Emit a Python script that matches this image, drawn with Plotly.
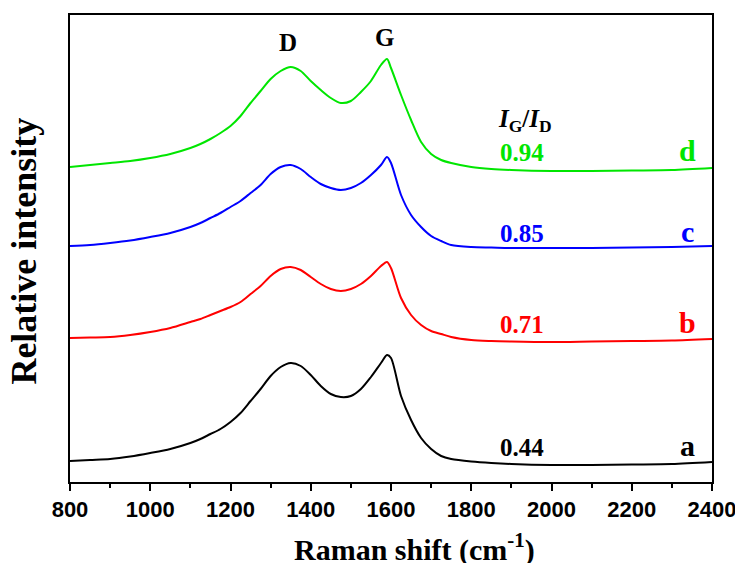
import plotly.graph_objects as go

# Raman shift (cm^-1) sample positions
shift = [800, 850, 900, 950, 1000, 1050, 1100, 1125, 1150, 1175, 1200,
         1225, 1250, 1275, 1300, 1325, 1350, 1375, 1400, 1425, 1450, 1475, 1500,
         1525, 1550, 1575, 1590, 1600, 1625, 1650, 1675, 1700, 1725, 1750,
         1800, 1850, 1900, 2000, 2100, 2200, 2300, 2400]

# Relative intensity (arbitrary units, spectra offset vertically)
spec_a = [21, 22, 23, 25.5, 29, 33, 39, 43, 48, 53, 60,
          69, 81, 93, 106, 115, 119, 116, 107, 96, 88, 85, 86,
          93, 105, 119, 127, 124, 86, 62, 44, 33, 26, 23,
          20.5, 19, 18, 17, 17, 17.5, 18, 20]
spec_b = [144, 144.5, 145, 147, 150, 154, 160, 163, 167, 171, 175,
          180, 188, 196, 206, 213, 215, 212, 205, 198, 193, 191, 193,
          198, 206, 216, 220, 214, 184, 167, 157, 151, 148, 145,
          142, 141, 140.5, 140, 140.5, 141, 141.5, 143]
spec_c = [236, 237, 239, 241.5, 245, 249, 255, 259, 264, 269, 275,
          281, 289, 297, 308, 315, 317, 313, 305, 298, 294, 292, 294,
          299, 307, 317, 325, 319, 287, 267, 255, 246, 241, 237,
          235, 234.5, 234, 234, 234, 234.5, 235, 236]
spec_d = [315, 317, 319, 321, 324, 328, 334, 338, 343, 349, 356,
          366, 379, 391, 403, 411, 415, 411, 401, 392, 384, 379, 381,
          390, 401, 417, 423, 414, 387, 362, 340, 328, 322, 319,
          315, 313, 312, 311, 311, 311.5, 312, 314]

series_names = ["a", "b", "c", "d"]
ratios = ["0.44", "0.71", "0.85", "0.94"]
colors = ["#000000", "#ff0000", "#0000ff", "#00e600"]
spectra = [spec_a, spec_b, spec_c, spec_d]
label_levels = [35, 158, 249, 330]

x_ticks = [800, 1000, 1200, 1400, 1600, 1800, 2000, 2200, 2400]

fig = go.Figure()
for name, ys, col in zip(series_names, spectra, colors):
    fig.add_trace(go.Scatter(x=shift, y=ys, mode="lines", name=name,
                             line=dict(color=col, width=2, shape="spline", smoothing=0.8),
                             showlegend=False))

serif = "Liberation Serif, Times New Roman, serif"
annotations = []
for name, r, col, lv in zip(series_names, ratios, colors, label_levels):
    annotations.append(dict(x=1926, y=lv, xref="x", yref="y", text="<b>%s</b>" % r,
                            showarrow=False, font=dict(family=serif, size=25, color=col)))
    annotations.append(dict(x=2338, y=lv + 2, xref="x", yref="y", text="<b>%s</b>" % name,
                            showarrow=False, font=dict(family=serif, size=30, color=col)))
annotations.append(dict(x=1934, y=362, xref="x", yref="y",
                        text="<b><i>I</i><sub>G</sub>/<i>I</i><sub>D</sub></b>",
                        showarrow=False, font=dict(family=serif, size=25, color="black")))
annotations.append(dict(x=1343, y=440, xref="x", yref="y", text="<b>D</b>",
                        showarrow=False, font=dict(family=serif, size=25, color="black")))
annotations.append(dict(x=1585, y=445, xref="x", yref="y", text="<b>G</b>",
                        showarrow=False, font=dict(family=serif, size=25, color="black")))
# axis titles
annotations.append(dict(x=0.536, y=-0.141, xref="paper", yref="paper",
                        xanchor="center", yanchor="middle",
                        text="<b>Raman shift (cm<sup>-1</sup>)</b>", showarrow=False,
                        font=dict(family=serif, size=30, color="black")))
annotations.append(dict(x=-0.072, y=0.495, xref="paper", yref="paper",
                        xanchor="center", yanchor="middle", textangle=-90,
                        text="<b>Relative intensity</b>", showarrow=False,
                        font=dict(family=serif, size=36, color="black")))

# page body has an 8px margin, so the figure is sized/placed to compensate
fig.update_layout(
    width=735, height=555,
    margin=dict(l=62, r=31, t=7, b=81, autoexpand=False),
    paper_bgcolor="white", plot_bgcolor="white",
    annotations=annotations,
    xaxis=dict(range=[800, 2400], tickvals=x_ticks, ticktext=[str(v) for v in x_ticks],
               automargin=False,
               showline=True, linecolor="black", linewidth=2, mirror=True,
               ticks="outside", ticklen=7, tickwidth=2, tickcolor="black",
               minor=dict(dtick=100, ticks="outside", ticklen=4, tickwidth=2, tickcolor="black"),
               showgrid=False, zeroline=False,
               tickfont=dict(family="Liberation Sans, Arial", size=22, color="black", weight="bold")),
    yaxis=dict(range=[0, 467], automargin=False,
               showline=True, linecolor="black", linewidth=2, mirror=True,
               showticklabels=False, ticks="", showgrid=False, zeroline=False),
)

fig.write_html("out.html")
